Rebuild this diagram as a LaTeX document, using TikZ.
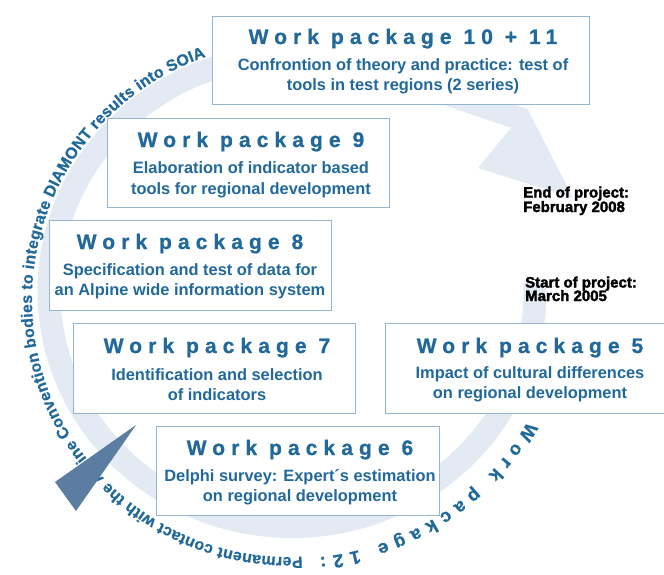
\documentclass[tikz,border=0pt]{standalone}
\usepackage{fontspec}
\setmainfont{Liberation Sans}
\newfontfamily\wptitlefont{Liberation Sans}[LetterSpace=29,FakeBold=0.8]
\newfontfamily\wpcircfont{Liberation Sans}[FakeBold=0.6]
\newfontfamily\wpheavy{Liberation Sans}[FakeBold=2.2]
\usetikzlibrary{calc,decorations.text}
\definecolor{wpblue}{HTML}{21699A}
\definecolor{wpborder}{HTML}{93B5D0}
\definecolor{wpband}{HTML}{E3EAF3}
\definecolor{wpdark}{HTML}{5A7DA1}
\begin{document}
\begin{tikzpicture}[x=1pt,y=-1pt,
  wpbox/.style={draw=wpborder, line width=1.3pt, fill=white, rectangle, inner sep=0pt, anchor=north west},
  wptitle/.style={anchor=base, inner sep=0pt, text=wpblue, font=\wptitlefont\bfseries\fontsize{21}{21}\selectfont},
  wpbody/.style={anchor=base, inner sep=0pt, text=wpblue, font=\bfseries\fontsize{16.4}{16.4}\selectfont},
  wpdate/.style={anchor=base west, inner sep=0pt, text=black, font=\wpheavy\bfseries\fontsize{15}{15}\selectfont}]
\useasboundingbox (0,0) rectangle (664,575);
% ring
\coordinate (bandc) at (292,291);
\coordinate (textc) at (289,300);
\draw[wpband, line width=23pt] ($(bandc)+(-2:243 and 235.5)$)
  arc[start angle=-2, end angle=289.25, x radius=243, y radius=235.5]
  -- ++(149.6,50.6);
\coordinate (barbA) at (478,168);
\coordinate (tipA) at (573,198);
\coordinate (barbB) at (527,108);
\fill[wpband] (barbA) -- (tipA) -- (barbB) -- cycle;
% boxes
\node[wpbox, minimum width=377pt, minimum height=88pt] (b10) at (212,16) {};
\node[wpbox, minimum width=282pt, minimum height=89pt] (b9) at (107,118) {};
\node[wpbox, minimum width=282pt, minimum height=90pt] (b8) at (49,220) {};
\node[wpbox, minimum width=282pt, minimum height=90pt] (b7) at (73,323) {};
\node[wpbox, minimum width=290pt, minimum height=90pt] (b5) at (385,323) {};
\node[wpbox, minimum width=283pt, minimum height=89pt] (b6) at (156,426) {};
% texts
\node[wptitle] (t10) at (403,44) {Work package 10 + 11};
\node[wpbody] (t10a) at (403,71) {Confrontion of theory and practice: test of};
\node[wpbody] (t10b) at (403,91) {tools in test regions (2 series)};
\node[wptitle] (t9) at (251,147) {Work package 9};
\node[wpbody] (t9a) at (251,174) {Elaboration of indicator based};
\node[wpbody] (t9b) at (251,194) {tools for regional development};
\node[wptitle] (t8) at (190,249) {Work package 8};
\node[wpbody] (t8a) at (190,275) {Specification and test of data for};
\node[wpbody] (t8b) at (190,295) {an Alpine wide information system};
\node[wptitle] (t7) at (217,353) {Work package 7};
\node[wpbody] (t7a) at (217,380) {Identification and selection};
\node[wpbody] (t7b) at (217,400) {of indicators};
\node[wptitle] (t5) at (530,353) {Work package 5};
\node[wpbody] (t5a) at (530,378) {Impact of cultural differences};
\node[wpbody] (t5b) at (530,398) {on regional development};
\node[wptitle] (t6) at (300,455) {Work package 6};
\node[wpbody] (t6a) at (300,481) {Delphi survey: Expert´s estimation};
\node[wpbody] (t6b) at (300,501) {on regional development};
% dates
\node[wpdate] (e1) at (523,197.5) {End of project:};
\node[wpdate] (e2) at (523,212) {February 2008};
\node[wpdate] (s1) at (525,287.5) {Start of project:};
\node[wpdate] (s2) at (525,301) {March 2005};
% circular text
\path[decorate, decoration={text along path,
   text={|\color{wpblue}\wpcircfont\bfseries\fontsize{18.5}{18.5}\selectfont|Work package 12:},
   text align={fit to path}}]
  ($(textc)+(28:270 and 259)$) arc[start angle=28, end angle=83.5, x radius=270, y radius=259];
\path[decorate, decoration={text along path,
   text={|\color{wpblue}\wpcircfont\bfseries\fontsize{16}{16}\selectfont|Permanent contact with the Alpine Convention bodies to integrate DIAMONT results into SOIA},
   text align={fit to path}}]
  ($(textc)+(87:257)$) arc[start angle=87, end angle=251, radius=257];
% pointer
\coordinate (pA) at (136,425);
\coordinate (pB) at (55,482);
\coordinate (pC) at (76,511);
\fill[wpdark] (pA) -- (pB) -- (pC) -- cycle;
\end{tikzpicture}
\end{document}
